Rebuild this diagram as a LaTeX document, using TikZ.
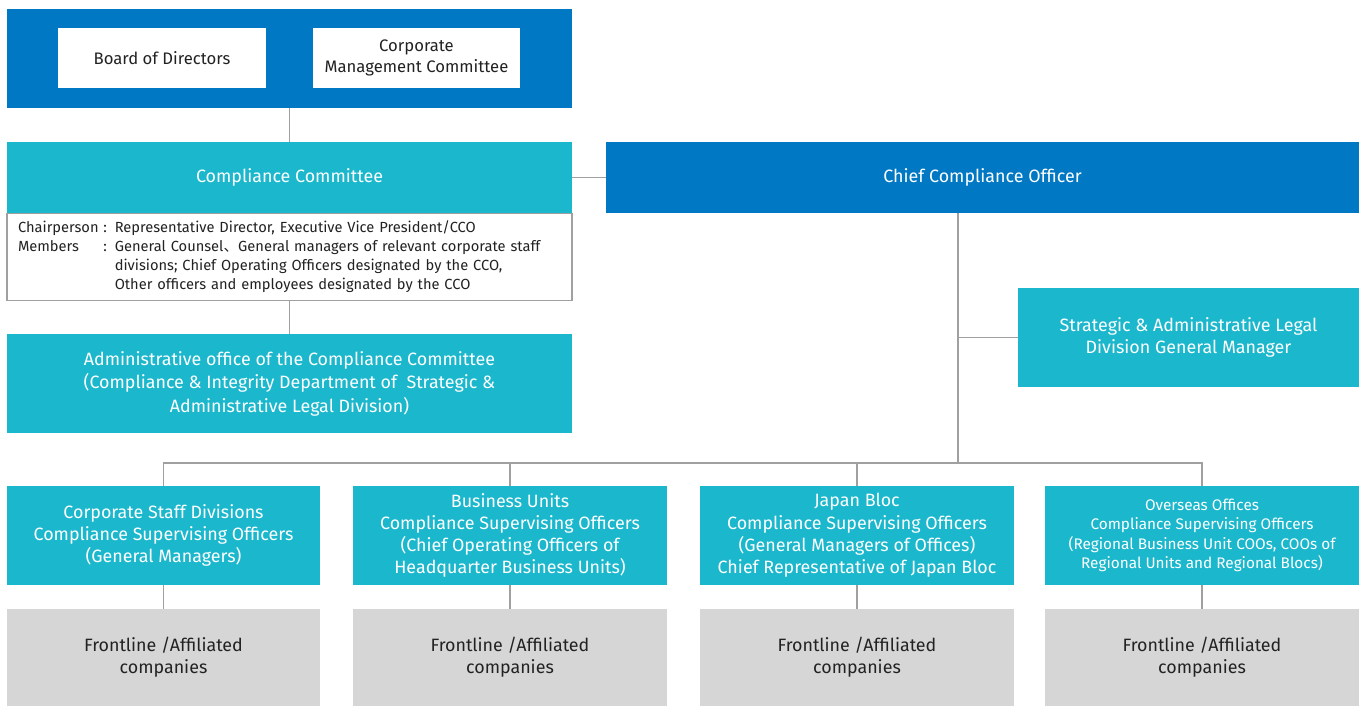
\documentclass[tikz,border=0pt]{standalone}
\usepackage{fontspec}
\setmainfont{Fira Sans}
\newfontfamily\cjk{Noto Sans CJK JP}
\definecolor{orgblue}{HTML}{0078C4}
\definecolor{orgcyan}{HTML}{1BB8CD}
\definecolor{orggrey}{HTML}{D6D6D6}
\definecolor{orgline}{HTML}{A0A0A0}
\definecolor{orgtext}{HTML}{222222}

\begin{document}
\begin{tikzpicture}[x=0.75pt,y=-0.75pt,
    wh/.style 2 args={minimum width=#1*0.75pt,minimum height=#2*0.75pt},
    unit/.style={inner sep=0pt,outer sep=0pt,align=center,font=\fontsize{13.4}{16.7}\selectfont},
    bluebox/.style={unit,fill=orgblue,text=white},
    cyanbox/.style={unit,fill=orgcyan,text=white},
    whitebox/.style={unit,fill=white,text=orgtext},
    greybox/.style={unit,fill=orggrey,text=orgtext},
    link/.style={draw=orgline,line width=1.1pt}]
    \useasboundingbox (0,0) rectangle (1362,706);
    % top governance
    \node[bluebox,wh={565}{99}] (board) at (289.5,58.5) {};
    \node[whitebox,wh={208}{60},font=\fontsize{12.5}{15.5}\selectfont] (bod) at (162,58) {Board of Directors};
    \node[whitebox,wh={207}{60},font=\fontsize{12.5}{15.5}\selectfont] (cmc) at (416.5,58) {Corporate\\Management Committee};
    % compliance committee
    \node[cyanbox,wh={565}{71}] (cc) at (289.5,177.5) {Compliance Committee};
    \node[whitebox,draw=orgline,line width=1pt,wh={565}{87},text width=543*0.75pt,align=left,
      font=\fontsize{11}{14.2}\selectfont] (ccm) at (289.5,257)
      {\begin{tabular}{@{}l@{\hspace{3.5pt}}l@{\hspace{6pt}}l@{}}
        Chairperson & : & Representative Director, Executive Vice President/CCO\\
        Members & : & General Counsel{\cjk 、}General managers of relevant corporate staff\\
         & & divisions; Chief Operating Officers designated by the CCO,\\
         & & Other officers and employees designated by the CCO
      \end{tabular}};
    \node[cyanbox,wh={565}{99},font=\fontsize{13.4}{17.6}\selectfont] (admin) at (289.5,383.5)
      {Administrative office of the Compliance Committee\\
       (Compliance \& Integrity Department of~ Strategic \&\\
       Administrative Legal Division)};
    % officer line
    \node[bluebox,wh={753}{71}] (cco) at (982.5,177.5) {Chief Compliance Officer};
    \node[cyanbox,wh={341}{99}] (sadm) at (1188.5,337.5)
      {Strategic \& Administrative Legal\\Division General Manager};
    % supervising officers
    \node[cyanbox,wh={313}{99}] (csd) at (163.5,535.5)
      {Corporate Staff Divisions\\Compliance Supervising Officers\\(General Managers)};
    \node[cyanbox,wh={314}{99}] (bu) at (510,535.5)
      {Business Units\\Compliance Supervising Officers\\(Chief Operating Officers of\\Headquarter Business Units)};
    \node[cyanbox,wh={314}{99}] (jb) at (857,535.5)
      {Japan Bloc\\Compliance Supervising Officers\\(General Managers of Offices)\\Chief Representative of Japan Bloc};
    \node[cyanbox,wh={314}{99},font=\fontsize{11.5}{14.6}\selectfont] (ovs) at (1202,535.5)
      {Overseas Offices\\Compliance Supervising Officers\\(Regional Business Unit COOs, COOs of\\Regional Units and Regional Blocs)};
    % frontline
    \node[greybox,wh={313}{97}] (fl1) at (163.5,657.5) {Frontline /Affiliated\\companies};
    \node[greybox,wh={314}{97}] (fl2) at (510,657.5) {Frontline /Affiliated\\companies};
    \node[greybox,wh={314}{97}] (fl3) at (857,657.5) {Frontline /Affiliated\\companies};
    \node[greybox,wh={314}{97}] (fl4) at (1202,657.5) {Frontline /Affiliated\\companies};
    % connectors
    \coordinate (hub) at (958,463);
    \draw[link] (board) -- (cc);
    \draw[link] (ccm) -- (admin);
    \draw[link] (cc) -- (cco);
    \draw[link] (hub |- cco.south) -- (hub);
    \draw[link] (hub |- sadm.west) -- (sadm.west);
    \foreach \u in {csd,bu,jb,ovs}
      \draw[link] (\u.north) |- (hub);
    \foreach \u/\f in {csd/fl1,bu/fl2,jb/fl3,ovs/fl4}
      \draw[link] (\u) -- (\f);
\end{tikzpicture}
\end{document}
